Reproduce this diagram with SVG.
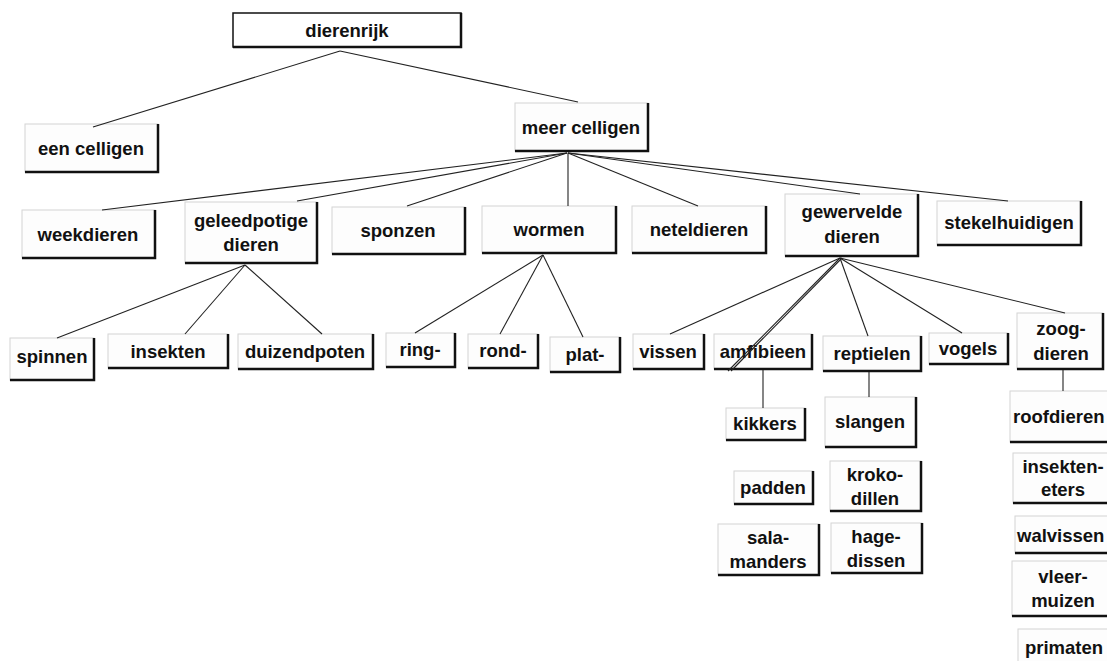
<svg xmlns="http://www.w3.org/2000/svg" width="1107" height="661" viewBox="0 0 1107 661">
<style>
.bg{fill:#ffffff}
.box{fill:#fdfdfd;stroke:#d4d4d4;stroke-width:1}
.sh{fill:none;stroke:#111;stroke-width:2.5}
.root{fill:#ffffff;stroke:#111;stroke-width:1.5}
.t{font-family:"Liberation Sans",Arial,sans-serif;font-size:18.5px;font-weight:bold;fill:#111;text-anchor:middle}
.tl{font-family:"Liberation Sans",Arial,sans-serif;font-size:18.5px;font-weight:bold;fill:#111;text-anchor:start}
.c{stroke:#222;stroke-width:1.1;fill:none}
</style>
<rect class="bg" x="0" y="0" width="1107" height="661"/>
<g id="n-dierenrijk"><rect class="root" x="233" y="13" width="228" height="34"/><path class="sh" d="M461,13 V47 H233"/><text class="t" x="347" y="37">dierenrijk</text></g>
<g id="n-eencelligen"><rect class="box" x="25" y="124" width="133" height="48"/><path class="sh" d="M158,124 V172 H25"/><text class="t" x="91" y="155">een celligen</text></g>
<g id="n-meercelligen"><rect class="box" x="515" y="103" width="133" height="48"/><path class="sh" d="M648,103 V151 H515"/><text class="t" x="581" y="134">meer celligen</text></g>
<g id="n-weekdieren"><rect class="box" x="22" y="210" width="133" height="48"/><path class="sh" d="M155,210 V258 H22"/><text class="t" x="88" y="241">weekdieren</text></g>
<g id="n-geleedpotige"><rect class="box" x="185" y="202" width="132" height="61"/><path class="sh" d="M317,202 V263 H185"/><text class="t" x="251" y="227">geleedpotige</text><text class="t" x="251" y="251">dieren</text></g>
<g id="n-sponzen"><rect class="box" x="332" y="207" width="133" height="47"/><path class="sh" d="M465,207 V254 H332"/><text class="t" x="398" y="237">sponzen</text></g>
<g id="n-wormen"><rect class="box" x="482" y="206" width="134" height="47"/><path class="sh" d="M616,206 V253 H482"/><text class="t" x="549" y="236">wormen</text></g>
<g id="n-neteldieren"><rect class="box" x="632" y="206" width="134" height="47"/><path class="sh" d="M766,206 V253 H632"/><text class="t" x="699" y="236">neteldieren</text></g>
<g id="n-gewervelde"><rect class="box" x="785" y="194" width="133" height="62"/><path class="sh" d="M918,194 V256 H785"/><text class="t" x="852" y="218">gewervelde</text><text class="t" x="852" y="243">dieren</text></g>
<g id="n-stekelhuidigen"><rect class="box" x="937" y="201" width="144" height="44"/><path class="sh" d="M1081,201 V245 H937"/><text class="t" x="1009" y="229">stekelhuidigen</text></g>
<g id="n-spinnen"><rect class="box" x="10" y="338" width="84" height="42"/><path class="sh" d="M94,338 V380 H10"/><text class="t" x="52" y="363">spinnen</text></g>
<g id="n-insekten"><rect class="box" x="108" y="334" width="120" height="34"/><path class="sh" d="M228,334 V368 H108"/><text class="t" x="168" y="358">insekten</text></g>
<g id="n-duizendpoten"><rect class="box" x="238" y="334" width="135" height="35"/><path class="sh" d="M373,334 V369 H238"/><text class="t" x="305" y="358">duizendpoten</text></g>
<g id="n-ring"><rect class="box" x="386" y="333" width="69" height="34"/><path class="sh" d="M455,333 V367 H386"/><text class="t" x="420" y="356">ring-</text></g>
<g id="n-rond"><rect class="box" x="468" y="334" width="70" height="34"/><path class="sh" d="M538,334 V368 H468"/><text class="t" x="503" y="357">rond-</text></g>
<g id="n-plat"><rect class="box" x="550" y="337" width="70" height="35"/><path class="sh" d="M620,337 V372 H550"/><text class="t" x="585" y="361">plat-</text></g>
<g id="n-vissen"><rect class="box" x="633" y="334" width="71" height="35"/><path class="sh" d="M704,334 V369 H633"/><text class="t" x="668" y="358">vissen</text></g>
<g id="n-amfibieen"><rect class="box" x="714" y="334" width="98" height="35"/><path class="sh" d="M812,334 V369 H714"/><text class="t" x="763" y="358">amfibieen</text></g>
<g id="n-reptielen"><rect class="box" x="823" y="336" width="98" height="35"/><path class="sh" d="M921,336 V371 H823"/><text class="t" x="872" y="360">reptielen</text></g>
<g id="n-vogels"><rect class="box" x="929" y="333" width="79" height="31"/><path class="sh" d="M1008,333 V364 H929"/><text class="t" x="968" y="355">vogels</text></g>
<g id="n-zoogdieren"><rect class="box" x="1017" y="313" width="86" height="56"/><path class="sh" d="M1103,313 V369 H1017"/><text class="t" x="1061" y="335">zoog-</text><text class="t" x="1061" y="360">dieren</text></g>
<g id="n-kikkers"><rect class="box" x="726" y="408" width="79" height="32"/><path class="sh" d="M805,408 V440 H726"/><text class="t" x="765" y="430">kikkers</text></g>
<g id="n-slangen"><rect class="box" x="825" y="397" width="91" height="50"/><path class="sh" d="M916,397 V447 H825"/><text class="t" x="870" y="428">slangen</text></g>
<g id="n-padden"><rect class="box" x="734" y="471" width="79" height="33"/><path class="sh" d="M813,471 V504 H734"/><text class="t" x="773" y="494">padden</text></g>
<g id="n-krokodillen"><rect class="box" x="830" y="461" width="91" height="50"/><path class="sh" d="M921,461 V511 H830"/><text class="t" x="875" y="481">kroko-</text><text class="t" x="875" y="505">dillen</text></g>
<g id="n-salamanders"><rect class="box" x="718" y="524" width="101" height="51"/><path class="sh" d="M819,524 V575 H718"/><text class="t" x="768" y="544">sala-</text><text class="t" x="768" y="568">manders</text></g>
<g id="n-hagedissen"><rect class="box" x="831" y="523" width="91" height="50"/><path class="sh" d="M922,523 V573 H831"/><text class="t" x="876" y="543">hage-</text><text class="t" x="876" y="567">dissen</text></g>
<g id="n-roofdieren"><rect class="box" x="1010" y="391" width="105" height="51"/><path class="sh" d="M1010,442 H1115"/><text class="tl" x="1013" y="423">roofdieren</text></g>
<g id="n-insekteneters"><rect class="box" x="1013" y="453" width="102" height="50"/><path class="sh" d="M1013,503 H1115"/><text class="t" x="1063" y="473">insekten-</text><text class="t" x="1063" y="496">eters</text></g>
<g id="n-walvissen"><rect class="box" x="1015" y="516" width="100" height="37"/><path class="sh" d="M1015,553 H1115"/><text class="tl" x="1017" y="542">walvissen</text></g>
<g id="n-vleermuizen"><rect class="box" x="1012" y="561" width="103" height="55"/><path class="sh" d="M1012,616 H1115"/><text class="t" x="1063" y="583">vleer-</text><text class="t" x="1063" y="607">muizen</text></g>
<g id="n-primaten"><rect class="box" x="1018" y="629" width="97" height="40"/><text class="t" x="1064" y="654">primaten</text></g>
<g id="connectors">
<line class="c" x1="340" y1="51" x2="93" y2="127"/>
<line class="c" x1="340" y1="51" x2="578" y2="102"/>
<line class="c" x1="567" y1="153" x2="102" y2="210"/>
<line class="c" x1="567" y1="153" x2="297" y2="201"/>
<line class="c" x1="567" y1="153" x2="407" y2="206"/>
<line class="c" x1="568" y1="153" x2="568" y2="206"/>
<line class="c" x1="568" y1="153" x2="698" y2="206"/>
<line class="c" x1="568" y1="153" x2="860" y2="194"/>
<line class="c" x1="568" y1="153" x2="1008" y2="201"/>
<line class="c" x1="245" y1="265" x2="57" y2="338"/>
<line class="c" x1="245" y1="265" x2="185" y2="334"/>
<line class="c" x1="245" y1="265" x2="322" y2="334"/>
<line class="c" x1="543" y1="255" x2="415" y2="333"/>
<line class="c" x1="543" y1="255" x2="500" y2="334"/>
<line class="c" x1="543" y1="255" x2="583" y2="337"/>
<line class="c" x1="840" y1="258" x2="670" y2="334"/>
<line class="c" x1="840" y1="258" x2="728" y2="371"/>
<line class="c" x1="842" y1="258" x2="731" y2="371"/>
<line class="c" x1="840" y1="258" x2="868" y2="336"/>
<line class="c" x1="840" y1="258" x2="962" y2="333"/>
<line class="c" x1="840" y1="258" x2="1065" y2="313"/>
<line class="c" x1="763" y1="370" x2="763" y2="408"/>
<line class="c" x1="869" y1="372" x2="869" y2="397"/>
<line class="c" x1="1063" y1="370" x2="1063" y2="391"/>
</g>
</svg>
